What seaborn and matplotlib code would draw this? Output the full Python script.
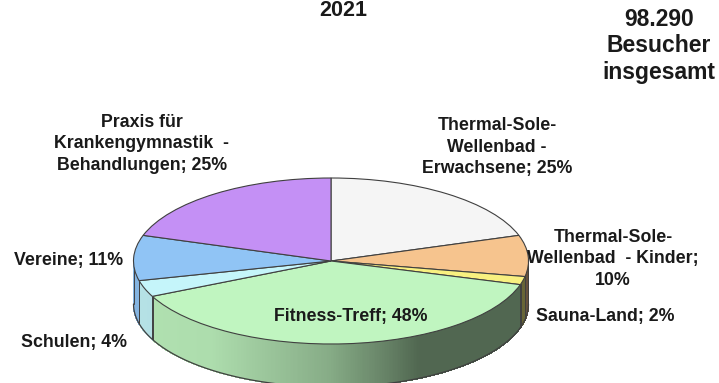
import matplotlib

matplotlib.use("Agg")

import matplotlib.pyplot as plt
import numpy as np
import seaborn as sns

# slices clockwise from 12 o'clock, the labels add up to 125 as in the source chart
CATEGORIES = [
    "Thermal-Sole-\nWellenbad -\nErwachsene",
    "Thermal-Sole-\nWellenbad  - Kinder;",
    "Sauna-Land",
    "Fitness-Treff",
    "Schulen",
    "Vereine",
    "Praxis für\nKrankengymnastik  -\nBehandlungen",
]
VALUES = [25, 10, 2, 48, 4, 11, 25]
TOP_COLORS = ["#f5f5f5", "#f6c48e", "#f8f080", "#c0f5c0", "#c5f5fa", "#90c4f5", "#c490f5"]
TITLE = "2021"
TOTAL_TEXT = "98.290\nBesucher\ninsgesamt"

W, H = 719, 383
CX, CY = 331, 261
RX, RY = 197.5, 83
DEPTH = 43 / RY

LABEL_POS = [
    (497, 147),
    (613, 259),
    (605, 316),
    (351, 317),
    (74, 342),
    (69, 261),
    (142, 144),
]


def shade(color, x):
    # light at the left of the wall, dark from the centre-right on
    factor = np.interp(x, [-1, -0.6, 0, 0.3, 0.45, 1], [0.92, 0.9, 0.7, 0.52, 0.42, 0.42])
    return tuple(c * factor for c in matplotlib.colors.to_rgb(color))


def draw_side(ax, angles):
    for i, color in enumerate(TOP_COLORS):
        start, stop = angles[i + 1], angles[i]
        steps = np.mod(np.arange(start, stop + 0.5, 0.5), 360)
        steps = np.sort(steps[steps >= 180])
        if len(steps) < 2:
            continue
        for a, b in zip(steps[:-1], steps[1:]):
            xa, xb = np.cos(np.radians([a, b]))
            ya, yb = np.sin(np.radians([a, b]))
            ax.fill(
                [xa, xb, xb, xa],
                [ya, yb, yb - DEPTH, ya - DEPTH],
                facecolor=shade(color, (xa + xb) / 2),
                edgecolor=shade(color, (xa + xb) / 2),
                lw=0.5,
                antialiased=False,
                zorder=1,
            )
        # wall separator on the front edge
        for a in (steps[0], steps[-1]):
            xa, ya = np.cos(np.radians(a)), np.sin(np.radians(a))
            ax.plot([xa, xa], [ya, ya - DEPTH], color="#404040", lw=0.7, zorder=2)
    t = np.radians(np.linspace(180, 360, 200))
    ax.plot(np.cos(t), np.sin(t) - DEPTH, color="#404040", lw=0.9, zorder=2)


def main():
    sns.set_theme(style="white")
    plt.rcParams["font.family"] = ["Liberation Sans", "DejaVu Sans"]

    fig = plt.figure(figsize=(W / 100, H / 100), dpi=100)
    ax = fig.add_axes([0, 0, 1, 1])
    palette = sns.color_palette(TOP_COLORS)

    ax.pie(
        VALUES,
        colors=palette,
        startangle=90,
        counterclock=False,
        radius=1,
        wedgeprops={"edgecolor": "#404040", "linewidth": 0.8, "zorder": 3},
    )
    shares = np.cumsum([0] + VALUES) / sum(VALUES)
    draw_side(ax, 90 - 360 * shares)

    ax.set_aspect("auto")
    ax.set_xlim(-CX / RX, (W - CX) / RX)
    ax.set_ylim((CY - H) / RY, CY / RY)
    ax.axis("off")

    for name, value, (px, py) in zip(CATEGORIES, VALUES, LABEL_POS):
        sep = "" if name.endswith(";") else ";"
        end = "\n" if name.endswith(";") else " "
        fig.text(
            px / W,
            1 - py / H,
            f"{name}{sep}{end}{value}%",
            ha="center",
            va="center",
            fontsize=12.8,
            fontweight="bold",
            color="#1a1a1a",
            linespacing=1.35,
            zorder=5,
        )

    fig.text(343 / W, 1 - 10 / H, TITLE, ha="center", va="center", fontsize=15.5, fontweight="bold", color="#1a1a1a")
    fig.text(659 / W, 1 - 46 / H, TOTAL_TEXT, ha="center", va="center", fontsize=16.5, fontweight="bold", color="#1a1a1a", linespacing=1.2)

    fig.savefig("out.png", dpi=100)
    plt.close(fig)


if __name__ == "__main__":
    main()
